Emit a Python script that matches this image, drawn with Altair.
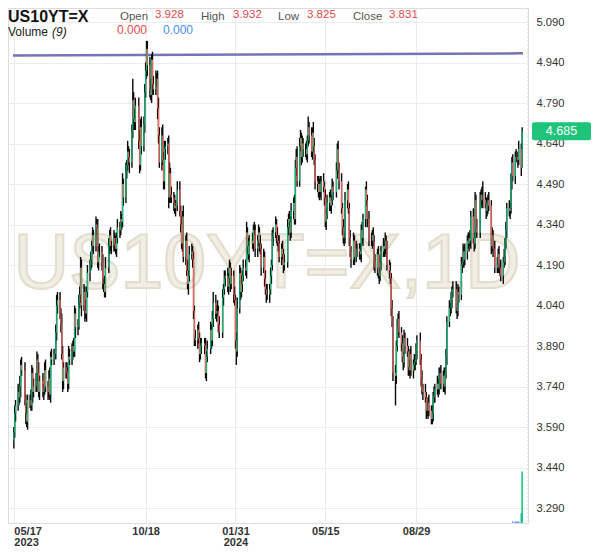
import altair as alt
import pandas as pd

# ---------------- data ----------------
# daily closes of the US 10Y yield, in basis points (1/100 of a percent), one row per week
close_bp = [
    357, 364, 367,                 # 2023-05-17 .. 05-19
    372, 370, 374, 382, 380,       # 05-22
    380, 369, 364, 361, 369,       # 05-29
    369, 367, 379, 372, 374,       # 06-05
    376, 384, 379, 372, 376,       # 06-12
    376, 372, 373, 380, 374,       # 06-19
    372, 377, 371, 385, 384,       # 06-26
    386, 386, 394, 404, 406,       # 07-03
    401, 397, 386, 376, 381,       # 07-10
    380, 379, 375, 385, 384,       # 07-17
    387, 389, 387, 401, 396,       # 07-24
    397, 405, 408, 418, 404,       # 07-31
    409, 402, 401, 409, 416,       # 08-07
    419, 421, 426, 430, 426,       # 08-14
    434, 433, 420, 424, 424,       # 08-21
    420, 412, 412, 409, 418,       # 08-28
    418, 426, 430, 426, 426,       # 09-04
    429, 427, 425, 429, 433,       # 09-11
    432, 436, 435, 449, 444,       # 09-18
    454, 456, 461, 459, 457,       # 09-25
    468, 480, 473, 472, 478,       # 10-02
    478, 465, 456, 470, 463,       # 10-09
    471, 483, 491, 499, 493,       # 10-16
    484, 482, 495, 486, 484,       # 10-23
    488, 488, 477, 467, 457,       # 10-30
    467, 458, 450, 462, 463,       # 11-06
    464, 444, 453, 445, 444,       # 11-13
    442, 440, 441, 441, 447,       # 11-20
    439, 434, 427, 437, 422,       # 11-27
    428, 417, 412, 415, 423,       # 12-04
    424, 421, 402, 392, 391,       # 12-11
    395, 392, 386, 389, 390,       # 12-18
    390, 389, 379, 385, 388,       # 12-25
    388, 395, 391, 399, 405,       # 2024-01-01
    401, 402, 402, 397, 394,       # 01-08
    394, 407, 410, 414, 415,       # 01-15
    411, 414, 418, 412, 415,       # 01-22
    408, 406, 391, 387, 403,       # 01-29
    416, 409, 412, 415, 418,       # 02-05
    417, 431, 426, 423, 428,       # 02-12
    428, 427, 432, 432, 425,       # 02-19
    428, 431, 427, 425, 418,       # 02-26
    422, 414, 410, 408, 408,       # 03-04
    410, 415, 419, 429, 431,       # 03-11
    434, 430, 428, 427, 422,       # 03-18
    425, 423, 419, 420, 420,       # 03-25
    433, 436, 435, 431, 439,       # 04-01
    442, 436, 455, 459, 450,       # 04-08
    463, 466, 459, 464, 462,       # 04-15
    462, 460, 465, 470, 467,       # 04-22
    461, 468, 463, 458, 450,       # 04-29
    449, 446, 449, 446, 450,       # 05-06
    448, 444, 435, 438, 442,       # 05-13
    444, 441, 443, 448, 446,       # 05-20
    446, 454, 462, 455, 450,       # 05-27
    440, 433, 429, 429, 443,       # 06-03
    447, 440, 429, 424, 421,       # 06-10
    428, 422, 422, 425, 425,       # 06-17
    424, 423, 432, 429, 436,       # 06-24
    447, 443, 436, 436, 428,       # 07-01
    428, 430, 428, 420, 418,       # 07-08
    423, 416, 415, 420, 424,       # 07-15
    426, 425, 428, 425, 419,       # 07-22
    417, 414, 403, 398, 379,       # 07-29
    378, 389, 396, 399, 394,       # 08-05
    390, 385, 383, 392, 389,       # 08-12
    387, 381, 380, 386, 380,       # 08-19
    382, 383, 384, 387, 391,       # 08-26
    391, 384, 377, 373, 372,       # 09-02
    370, 365, 365, 368, 365,       # 09-09
    362, 364, 370, 371, 373,       # 09-16
    375, 373, 378, 379, 375,       # 09-23
    378, 374, 379, 385, 398,       # 09-30
    403, 403, 406, 409, 410,       # 10-07
    410, 403, 402, 409, 408,       # 10-14
    419, 420, 424, 421, 424,       # 10-21
    428, 427, 429, 428, 437,       # 10-28
    429, 427, 443, 433, 431,       # 11-04
    431, 443, 445, 443, 443,       # 11-11
    442, 439, 441, 443, 441,       # 11-18
    426, 430, 425, 425, 418,       # 11-25
    419, 423, 418, 418, 415,       # 12-02
    420, 422, 427, 432, 440,       # 12-09
    439, 440, 450, 457, 452,       # 12-16
    459, 459, 459, 458, 462,       # 12-23
    455, 468.5,                    # 12-30
]
first_open_bp = 354

# upper wick above the candle body, basis points
wick_up = [
    2, 3, 2,
    3, 2, 4, 2, 3,   0, 3, 2, 4, 2,   2, 4, 3, 2, 3,   3, 3, 2, 4, 2,
    0, 3, 2, 3, 4,   2, 3, 4, 2, 3,   2, 0, 3, 4, 3,   3, 2, 4, 3, 2,
    2, 3, 2, 4, 3,   3, 2, 3, 3, 2,   2, 3, 3, 4, 3,   3, 2, 4, 2, 3,
    2, 3, 2, 3, 2,   3, 2, 3, 2, 3,   2, 3, 2, 3, 4,   0, 3, 2, 3, 2,
    3, 2, 3, 2, 3,   2, 3, 2, 4, 2,   3, 2, 4, 2, 3,   3, 8, 3, 4, 3,
    0, 3, 4, 3, 4,   3, 3, 3, 3, 3,   3, 4, 2, 3, 3,   3, 2, 3, 4, 3,
    3, 4, 3, 3, 2,   2, 3, 4, 2, 3,   2, 3, 2, 0, 3,   3, 2, 3, 2, 4,
    2, 3, 4, 2, 3,   3, 2, 3, 2, 3,   2, 3, 2, 3, 2,   0, 2, 3, 2, 3,
    0, 3, 2, 3, 4,   3, 2, 4, 2, 3,   0, 3, 2, 3, 2,   3, 2, 3, 2, 3,
    2, 3, 2, 3, 4,   3, 2, 3, 2, 3,   3, 4, 2, 3, 2,   0, 3, 2, 3, 2,
    2, 3, 2, 3, 2,   3, 2, 3, 2, 4,   2, 3, 2, 3, 2,   3, 2, 3, 2, 3,
    2, 3, 2, 3, 0,   3, 2, 3, 2, 3,   2, 3, 3, 3, 4,   3, 3, 2, 3, 2,
    2, 3, 2, 4, 2,   3, 2, 4, 3, 2,   2, 3, 2, 3, 2,   3, 2, 3, 2, 3,
    2, 3, 2, 3, 2,   0, 3, 2, 3, 2,   3, 2, 3, 2, 3,   2, 3, 2, 3, 2,
    3, 2, 0, 3, 2,   2, 3, 2, 3, 2,   1, 3, 2, 0, 3,   3, 2, 3, 2, 3,
    2, 3, 2, 3, 2,   3, 2, 3, 2, 3,   2, 3, 2, 3, 2,   3, 2, 3, 2, 3,
    2, 3, 2, 3, 2,   3, 2, 3, 2, 3,   2, 3, 2, 3, 2,   0, 3, 2, 3, 2,
    3, 2, 3, 2, 3,   2, 3, 2, 3, 2,   3, 2, 3, 2, 3,   2, 3, 2, 3, 2,
    3, 2, 3, 2, 3,   0, 3, 2, 3, 2,   3, 2, 3, 2, 3,   2, 3, 2, 3, 2,
    3, 2, 3, 2, 3,   0, 3, 2, 3, 7,   3, 2, 3, 2, 3,   2, 3, 2, 0, 3,
    3, 2, 3, 2, 3,   2, 3, 2, 3, 2,   3, 2, 3, 2, 3,   2, 3, 0, 2, 3,
    2, 1.5,
]
# lower wick below the candle body, basis points
wick_dn = [
    3, 2, 3,
    2, 3, 2, 4, 2,   0, 2, 4, 2, 3,   3, 2, 2, 4, 2,   2, 4, 3, 2, 3,
    0, 2, 3, 2, 2,   3, 2, 2, 3, 2,   2, 0, 2, 3, 3,   2, 3, 2, 4, 3,
    3, 2, 3, 2, 2,   2, 3, 2, 2, 4,   3, 2, 2, 3, 4,   2, 4, 2, 3, 2,
    3, 2, 3, 2, 3,   2, 3, 2, 3, 2,   3, 2, 3, 2, 2,   0, 2, 3, 2, 3,
    2, 3, 2, 3, 2,   3, 2, 3, 2, 3,   2, 3, 2, 3, 4,   2, 2, 4, 3, 3,
    0, 3, 3, 2, 3,   2, 3, 2, 3, 4,   3, 2, 3, 4, 2,   2, 3, 4, 3, 2,
    3, 2, 3, 3, 4,   3, 4, 2, 3, 2,   3, 2, 3, 0, 2,   2, 3, 2, 3, 2,
    3, 2, 2, 4, 2,   2, 3, 3, 3, 2,   3, 2, 3, 2, 3,   0, 3, 2, 3, 2,
    0, 2, 3, 2, 3,   2, 3, 2, 3, 2,   0, 2, 3, 2, 3,   2, 3, 2, 3, 2,
    3, 2, 3, 5, 2,   2, 3, 2, 3, 2,   2, 3, 3, 2, 3,   0, 2, 3, 2, 3,
    3, 2, 3, 2, 3,   2, 3, 2, 3, 2,   3, 2, 3, 2, 3,   2, 3, 2, 3, 2,
    3, 2, 3, 2, 0,   2, 3, 2, 3, 2,   3, 2, 2, 3, 2,   2, 2, 3, 2, 3,
    3, 2, 3, 2, 3,   2, 3, 2, 2, 3,   3, 2, 3, 2, 3,   2, 3, 2, 3, 2,
    3, 2, 3, 2, 3,   0, 2, 3, 2, 3,   2, 3, 2, 3, 2,   3, 2, 3, 2, 3,
    2, 3, 0, 2, 3,   3, 2, 3, 2, 3,   3, 2, 3, 0, 2,   2, 3, 2, 3, 2,
    3, 2, 3, 2, 3,   2, 3, 2, 3, 2,   3, 2, 3, 2, 3,   11, 3, 2, 3, 2,
    3, 2, 3, 2, 3,   2, 3, 2, 3, 2,   3, 2, 3, 2, 3,   0, 2, 3, 2, 3,
    2, 3, 2, 3, 2,   2, 2, 3, 2, 3,   2, 3, 2, 3, 2,   3, 2, 3, 2, 3,
    2, 3, 2, 3, 2,   0, 2, 3, 2, 3,   2, 3, 2, 3, 2,   3, 2, 3, 2, 3,
    2, 3, 2, 3, 2,   0, 2, 3, 2, 3,   2, 3, 2, 3, 2,   3, 2, 3, 0, 2,
    2, 3, 2, 3, 2,   3, 2, 3, 2, 3,   2, 3, 2, 3, 2,   3, 2, 0, 3, 2,
    3, 0,
]

# volume bars at the far right
vol_dates = ["2024-12-20", "2024-12-23", "2024-12-24", "2024-12-26",
             "2024-12-27", "2024-12-30", "2024-12-31"]
vol_values = [3, 3, 3, 3, 3, 19, 100]
vol_kind = ["flat", "flat", "flat", "flat", "flat", "up", "up"]

# horizontal (slightly rising) trend line
trend_dates = ["2023-05-16", "2025-01-01"]
trend_values = [4.966, 4.974]

last_price = [4.685]

y_ticks = [3.29, 3.44, 3.59, 3.74, 3.89, 4.04, 4.19, 4.34, 4.49,
           4.64, 4.79, 4.94, 5.09]
x_ticks = [(2023, 5, 17), (2023, 10, 18), (2024, 1, 31), (2024, 5, 15), (2024, 8, 29)]

symbol = "US10YT=X"
watermark = "US10YT=X,1D"
ohlc_names = ["Open", "High", "Low", "Close"]
ohlc_values = ["3.928", "3.932", "3.825", "3.831"]
volume_title = "Volume "
volume_len = "(9)"
volume_values = ["0.000", "0.000"]

# ---------------- tables ----------------
assert len(close_bp) == len(wick_up) == len(wick_dn)
dates = pd.bdate_range("2023-05-17", periods=len(close_bp))
opens = [first_open_bp] + close_bp[:-1]
df = pd.DataFrame({
    "date": dates,
    "open": [o / 100 for o in opens],
    "close": [c / 100 for c in close_bp],
    "high": [(max(o, c) + u) / 100 for o, c, u in zip(opens, close_bp, wick_up)],
    "low": [(min(o, c) - d) / 100 for o, c, d in zip(opens, close_bp, wick_dn)],
    "dir": ["up" if c >= o else "down" for o, c in zip(opens, close_bp)],
})
df = df[~((df["open"] == df["close"]) & (df["high"] == df["low"]))]  # market holidays

vol_df = pd.DataFrame({"date": pd.to_datetime(vol_dates), "vol": vol_values, "kind": vol_kind})
trend_df = pd.DataFrame({"date": pd.to_datetime(trend_dates), "val": trend_values})
last_df = pd.DataFrame({"price": last_price})

# ---------------- styling ----------------
FONT = "Liberation Sans"
GREEN = "#0dc27a"
RED = "#f4645a"
W, H = 520, 515
PAD_R, PAD_B = 63, 26

xscale = alt.Scale(domain=[alt.DateTime(year=2023, month=5, date=16),
                           alt.DateTime(year=2025, month=1, date=1)])
yscale = alt.Scale(domain=[3.2345, 5.1419], nice=False, zero=False)

xaxis = alt.Axis(
    values=[alt.DateTime(year=y, month=m, date=d) for y, m, d in x_ticks],
    labelExpr="(datum.index == 0 || month(datum.value) == 0) ? "
              "[timeFormat(datum.value, '%m/%d'), timeFormat(datum.value, '%Y')] : "
              "timeFormat(datum.value, '%m/%d')",
    labelAlign={"condition": {"test": "datum.index == 0", "value": "left"}, "value": "center"},
    labelBaseline="top", labelPadding=2, labelFontSize=11, labelFontWeight="bold",
    labelColor="#333333", labelLineHeight=11.5, labelFont=FONT,
    domain=False, ticks=False, grid=True, gridColor="#ececec", title=None,
    labelOverlap=False, labelFlush=False,
)
yaxis = alt.Axis(
    orient="right", values=y_ticks, format=".3f", labelFontSize=11.2,
    labelColor="#333333", labelPadding=8, labelFont=FONT,
    domain=False, ticks=False, grid=True, gridColor="#ececec", title=None,
    labelOverlap=False,
)

one = pd.DataFrame({"t": [0]})


def label(txt, x, y, size=11.5, color="#555555", weight="normal", style="normal"):
    return alt.Chart(one).mark_text(
        align="left", baseline="alphabetic", fontSize=size, color=color,
        fontWeight=weight, fontStyle=style, font=FONT,
    ).encode(x=alt.value(x), y=alt.value(y), text=alt.value(txt))


wm = alt.Chart(one).mark_text(
    align="center", baseline="alphabetic", fontSize=77, font=FONT,
    fill="#f1eee5", stroke="#e3dece", strokeWidth=2.2,
).encode(x=alt.value(259), y=alt.value(280), text=alt.value(watermark))

wicks = alt.Chart(df).mark_rule(color="#0a0a0a", strokeWidth=1.4).encode(
    x=alt.X("date:T", scale=xscale, axis=xaxis),
    y=alt.Y("low:Q", scale=yscale, axis=yaxis),
    y2="high:Q",
)
bodies = alt.Chart(df).mark_rule(strokeWidth=1.1).encode(
    x=alt.X("date:T", scale=xscale),
    y=alt.Y("open:Q", scale=yscale),
    y2="close:Q",
    color=alt.Color("dir:N", scale=alt.Scale(domain=["up", "down"], range=[GREEN, RED]),
                    legend=None),
)
trend = alt.Chart(trend_df).mark_line(color="#7474b9", strokeWidth=2.5, clip=True).encode(
    x=alt.X("date:T", scale=xscale),
    y=alt.Y("val:Q", scale=yscale),
)
edge = alt.Chart(one).mark_rule(color="#d4d4d4", strokeDash=[2, 2], strokeWidth=1).encode(
    x=alt.value(W), y=alt.value(0), y2=alt.value(H),
)
price_box = alt.Chart(last_df).mark_rect(
    color="#1ec47a", yOffset=-9, y2Offset=9, cornerRadius=2,
).encode(
    x=alt.value(524), x2=alt.value(W + PAD_R),
    y=alt.Y("price:Q", scale=yscale), y2="price:Q",
)
price_txt = alt.Chart(last_df).mark_text(
    align="center", baseline="middle", fontSize=12.5, color="white", font=FONT,
).encode(
    x=alt.value((524 + W + PAD_R) / 2), y=alt.Y("price:Q", scale=yscale),
    text=alt.Text("price:Q", format=".3f"),
)

header = [
    label(symbol, 0, 13.5, size=16, color="#111111", weight="bold"),
    label(ohlc_names[0], 112, 11.8), label(ohlc_values[0], 147, 9.8, color="#e04a4a"),
    label(ohlc_names[1], 193, 11.8), label(ohlc_values[1], 225, 9.8, color="#e04a4a"),
    label(ohlc_names[2], 270, 11.8), label(ohlc_values[2], 299, 9.8, color="#e04a4a"),
    label(ohlc_names[3], 345, 11.8), label(ohlc_values[3], 381, 9.8, color="#e04a4a"),
    label(volume_title, 0, 28, size=12, color="#222222"),
    label(volume_len, 44, 28, size=12, color="#222222", style="italic"),
    label(volume_values[0], 109, 26, size=12, color="#e04a4a"),
    label(volume_values[1], 155, 26, size=12, color="#4a8ef0"),
]

price_layers = alt.layer(wm, trend, wicks, bodies, edge, price_box, price_txt, *header)

volume = alt.Chart(vol_df).mark_bar(width=1.5).encode(
    x=alt.X("date:T", scale=xscale),
    y=alt.Y("vol:Q", scale=alt.Scale(domain=[0, 1000]), axis=None),
    color=alt.Color("kind:N", scale=alt.Scale(domain=["flat", "up"], range=["#5b9cf0", GREEN]),
                    legend=None),
)

chart = alt.layer(price_layers, volume).resolve_scale(
    y="independent", color="independent"
).properties(
    width=W, height=H,
    autosize=alt.AutoSizeParams(type="none"),
    padding={"left": 0, "top": 0, "right": PAD_R, "bottom": PAD_B},
    background="white",
).configure_view(strokeWidth=0).configure(font=FONT)

chart.save("out.html", embed_options={"renderer": "svg", "actions": False})
